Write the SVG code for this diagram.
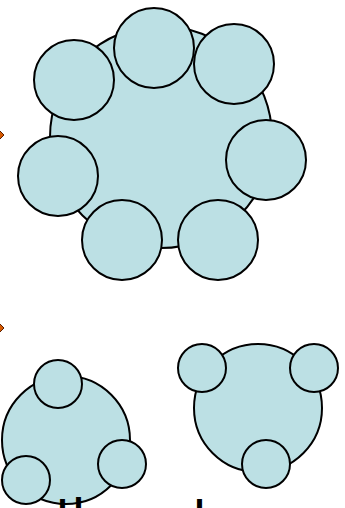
<svg xmlns="http://www.w3.org/2000/svg" width="345" height="508" viewBox="0 0 345 508">
<style>
.c{fill:#bce0e4;stroke:#000;stroke-width:2}
.b{fill:#d65a00;stroke:#5a1e00;stroke-width:1}
.t{font-family:"Liberation Sans",Arial,sans-serif;font-weight:bold;font-size:36px;fill:#000}
</style>
<g id="bullet1"><polygon class="b" points="0,131 4,135 0,139 -4,135"/></g>
<g id="bullet2"><polygon class="b" points="0,324 4,328 0,332 -4,328"/></g>
<g id="cluster1">
<circle class="c" cx="161" cy="137" r="111"/>
<circle class="c" cx="74" cy="80" r="40"/>
<circle class="c" cx="154" cy="48" r="40"/>
<circle class="c" cx="234" cy="64" r="40"/>
<circle class="c" cx="266" cy="160" r="40"/>
<circle class="c" cx="58" cy="176" r="40"/>
<circle class="c" cx="122" cy="240" r="40"/>
<circle class="c" cx="218" cy="240" r="40"/>
</g>
<g id="cluster2">
<circle class="c" cx="66" cy="440" r="64"/>
<circle class="c" cx="58" cy="384" r="24"/>
<circle class="c" cx="122" cy="464" r="24"/>
<circle class="c" cx="26" cy="480" r="24"/>
</g>
<g id="cluster3">
<circle class="c" cx="258" cy="408" r="64"/>
<circle class="c" cx="202" cy="368" r="24"/>
<circle class="c" cx="314" cy="368" r="24"/>
<circle class="c" cx="266" cy="464" r="24"/>
</g>
<g id="caption"><text class="t" y="526"><tspan x="57.5">l</tspan><tspan x="73.5" y="524">l</tspan><tspan x="194.5" y="526">l</tspan></text></g>
<g id="connectors"></g>
</svg>
